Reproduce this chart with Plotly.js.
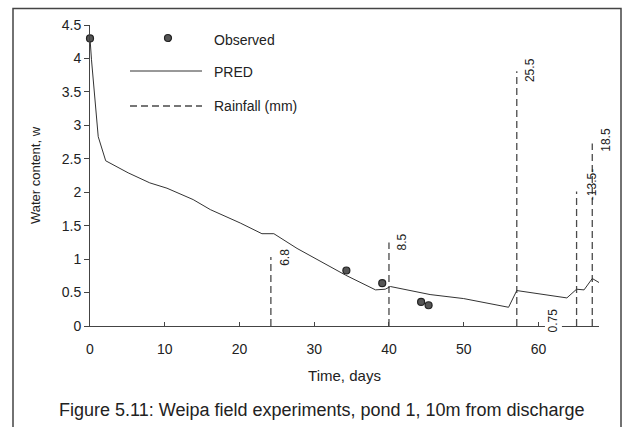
<!DOCTYPE html>
<html>
<head>
<meta charset="utf-8">
<script src="https://cdn.plot.ly/plotly-3.0.1.min.js"></script>
<style>
html,body{margin:0;padding:0;background:#fff;}
#chart{width:625px;height:427px;}
</style>
</head>
<body>
<div id="chart"></div>
<script>
// Observed water content
var obsDays = [0, 34.3, 39.1, 44.3, 45.3];
var obsW = [4.3, 0.83, 0.64, 0.36, 0.31];

// Predicted water content (PRED)
var predDays = [0, 0.2, 1.1, 2.1, 5.1, 8.0, 10.3, 13.8, 16.1, 20.1, 23.0, 24.6, 27.7, 30.8, 34.2, 38.2, 39.5, 40.2, 45.5, 50.0, 56.0, 57.1, 63.8, 65.1, 66.1, 67.2, 68.1];
var predW = [4.3, 3.98, 2.83, 2.47, 2.29, 2.14, 2.06, 1.89, 1.74, 1.54, 1.38, 1.38, 1.16, 0.97, 0.76, 0.54, 0.55, 0.59, 0.47, 0.41, 0.28, 0.53, 0.42, 0.55, 0.54, 0.71, 0.65];

// Rainfall events
var rainDays = [24.2, 40.0, 57.1, 65.1, 67.2];
var rainHeights = [1.03, 1.25, 3.81, 2.01, 2.73];
var rainLabels = ['6.8', '8.5', '25.5', '-13.5-', '18.5'];
var rainLabelX = [26.1, 41.7, 58.9, 67.2, 69.0];
var rainLabelY = [1.02, 1.26, 3.83, 2.11, 2.78];
var smallRainLabel = '0.75';
var smallRainX = 62.0;
var smallRainY = 0.09;

var xTicks = [0, 10, 20, 30, 40, 50, 60];
var yTicks = [0, 0.5, 1, 1.5, 2, 2.5, 3, 3.5, 4, 4.5];

var X_MAX = 68.1, Y_MAX = 4.5;

var rx = [], ry = [];
for (var i = 0; i < rainDays.length; i++) {
  rx.push(rainDays[i], rainDays[i], null);
  ry.push(0, rainHeights[i], null);
}

var ink = '#333333';
var font = 'Liberation Sans, Arial, sans-serif';
var dashStyle = '7px,4px';

var traces = [
  {x: rx, y: ry, mode: 'lines', name: 'Rainfall (mm)', line: {color: '#4a4a4a', width: 1.3, dash: dashStyle}, hoverinfo: 'skip'},
  {x: predDays, y: predW, mode: 'lines', name: 'PRED', line: {color: ink, width: 1}},
  {x: obsDays, y: obsW, mode: 'markers', name: 'Observed', cliponaxis: false,
   marker: {size: 7, color: '#555', line: {color: '#222', width: 1.2}}}
];

var annotations = [];
for (var j = 0; j < rainLabels.length; j++) {
  // placed as fractions of the axis ranges so labels beyond the x range stay visible
  annotations.push({x: rainLabelX[j] / X_MAX, y: rainLabelY[j] / Y_MAX, xref: 'paper', yref: 'paper', text: rainLabels[j],
    xanchor: 'center', yanchor: 'middle',
    showarrow: false, textangle: -90, font: {family: font, size: 12, color: '#222'}});
}
annotations.push({x: smallRainX / X_MAX, y: smallRainY / Y_MAX, xref: 'paper', yref: 'paper', text: smallRainLabel, showarrow: false,
  xanchor: 'center', yanchor: 'middle',
  textangle: -90, bgcolor: '#fff', font: {family: font, size: 12, color: '#222'}});

// legend (custom)
var px = function (p) { return (p - 90) / 509; };
var py = function (p) { return (326 - p) / 301; };
var legItems = [['Observed', 40], ['PRED', 72], ['Rainfall (mm)', 106]];
legItems.forEach(function (it) {
  annotations.push({x: px(212), y: py(it[1]), xref: 'paper', yref: 'paper', text: it[0], showarrow: false,
    xanchor: 'left', yanchor: 'middle', font: {family: font, size: 14, color: '#222'}});
});
annotations.push({x: px(322), y: py(410), xref: 'paper', yref: 'paper', showarrow: false,
  xanchor: 'center', yanchor: 'middle',
  text: 'Figure 5.11: Weipa field experiments, pond 1, 10m from discharge',
  font: {family: font, size: 18, color: '#222'}});

var shapes = [
  {type: 'rect', xref: 'paper', yref: 'paper', x0: px(13), x1: px(621), y0: py(440), y1: py(8.5),
   line: {color: '#444', width: 1.5}, fillcolor: 'rgba(0,0,0,0)', layer: 'below'},
  {type: 'circle', xref: 'paper', yref: 'paper', x0: px(164.5), x1: px(171.5), y0: py(41.5), y1: py(34.5),
   fillcolor: '#555', line: {color: '#222', width: 1.2}},
  {type: 'line', xref: 'paper', yref: 'paper', x0: px(130), x1: px(202), y0: py(71), y1: py(71),
   line: {color: ink, width: 1}},
  {type: 'line', xref: 'paper', yref: 'paper', x0: px(130), x1: px(202), y0: py(106), y1: py(106),
   line: {color: '#4a4a4a', width: 1.3, dash: dashStyle}}
];

var layout = {
  width: 625, height: 427,
  margin: {l: 90, r: 26, t: 25, b: 101},
  paper_bgcolor: '#fff', plot_bgcolor: '#fff',
  showlegend: false,
  font: {family: font, color: '#222'},
  xaxis: {range: [0, X_MAX], tickvals: xTicks, ticktext: xTicks.map(String), ticks: 'inside', ticklen: 4,
    tickcolor: '#444', showline: true, linecolor: '#444', linewidth: 1, showgrid: false, zeroline: false,
    ticklabelstandoff: 10,
    tickfont: {size: 14, family: font}, title: {text: 'Time, days', font: {size: 15, family: font}, standoff: 14}},
  yaxis: {range: [0, Y_MAX], tickvals: yTicks, ticktext: yTicks.map(String), ticks: 'outside', ticklen: 5,
    tickcolor: '#444', showline: true, linecolor: '#444', linewidth: 1, showgrid: false, zeroline: false,
    tickfont: {size: 14, family: font}, title: {text: 'Water content, w', font: {size: 13, family: font}, standoff: 18}},
  annotations: annotations,
  shapes: shapes
};

Plotly.newPlot('chart', traces, layout, {displayModeBar: false, staticPlot: true});
</script>
</body>
</html>
